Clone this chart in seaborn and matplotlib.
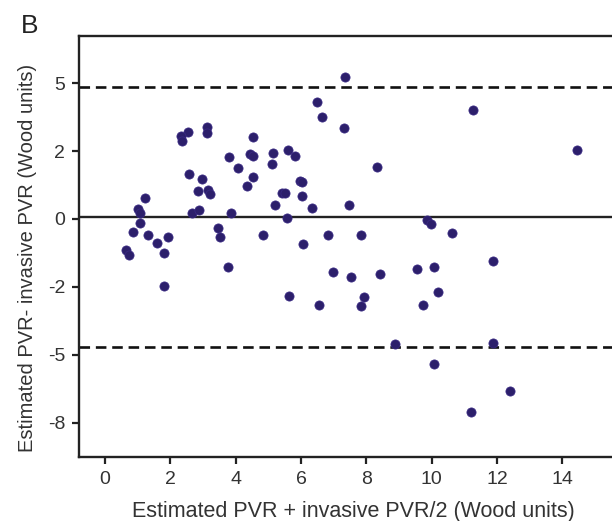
import pandas as pd
import seaborn as sns
import matplotlib.pyplot as plt

# Bland-Altman data
# x: mean of estimated and invasive PVR, y: difference (in axis position units)
mean_pvr = [7.36, 6.49, 6.64, 7.33, 2.54, 2.34, 2.37, 3.11, 3.13, 4.54,
            3.79, 4.08, 4.44, 4.54, 5.15, 5.11, 5.59, 5.82, 2.56, 2.98,
            2.85, 3.16, 3.21, 4.53, 4.35, 5.97, 6.02, 5.42, 5.52, 6.02,
            6.33, 7.46, 5.21, 5.56, 1.21, 1.02, 1.06, 1.08, 0.87, 2.67,
            2.89, 3.85, 1.33, 1.59, 1.92, 1.79, 0.64, 0.74, 3.47, 3.51,
            4.84, 6.07, 6.84, 1.82, 3.75, 5.63, 6.56, 6.98, 7.52, 9.85,
            9.97, 10.61, 7.85, 8.41, 9.56, 10.07, 11.89, 10.21, 7.92, 7.85,
            9.74, 8.87, 11.87, 10.08, 12.39, 11.21, 11.28, 14.44, 8.33]
diff_pvr = [4.18, 3.44, 3.00, 2.68, 2.57, 2.45, 2.30, 2.72, 2.54, 2.42,
            1.83, 1.51, 1.92, 1.86, 1.94, 1.62, 2.03, 1.85, 1.33, 1.18,
            0.83, 0.85, 0.73, 1.25, 0.97, 1.13, 1.08, 0.77, 0.77, 0.69,
            0.32, 0.42, 0.41, 0.03, 0.61, 0.30, 0.19, -0.13, -0.37, 0.17,
            0.27, 0.19, -0.47, -0.70, -0.54, -0.99, -0.91, -1.05, -0.26, -0.52,
            -0.47, -0.73, -0.47, -1.97, -1.41, -2.27, -2.53, -1.55, -1.72, -0.03,
            -0.15, -0.41, -0.46, -1.62, -1.48, -1.41, -1.23, -2.16, -2.31, -2.56,
            -2.53, -3.68, -3.64, -4.27, -5.08, -5.68, 3.21, 2.02, 1.54]

bias = 0.05
upper_loa = 3.90
lower_loa = -3.78

x_ticks = [0, 2, 4, 6, 8, 10, 12, 14]
y_ticks = [4, 2, 0, -2, -4, -6]
y_tick_labels = ["5", "2", "0", "-2", "-5", "-8"]

df = pd.DataFrame({"mean": mean_pvr, "diff": diff_pvr})

sns.set_style("ticks")
plt.rcParams['font.family'] = ['Liberation Sans', 'DejaVu Sans']

fig = plt.figure(figsize=(6.12, 5.21), dpi=100)
ax = fig.add_axes([0.129, 0.1234, 0.875, 0.8077])

sns.scatterplot(data=df, x="mean", y="diff", color="#2c1f6b",
                s=44, edgecolor="#3a2a85", linewidth=0.5, ax=ax, zorder=3)

# bias and limits of agreement
ax.axhline(bias, color="#222222", lw=1.7, zorder=2)
ax.axhline(upper_loa, color="#111111", lw=1.9, ls=(0, (4, 2.2)), zorder=2)
ax.axhline(lower_loa, color="#111111", lw=1.9, ls=(0, (4, 2.2)), zorder=2)

ax.set_xlim(-0.8, 15.6)
ax.set_ylim(-7.0, 5.39)
ax.set_xticks(x_ticks)
ax.set_yticks(y_ticks)
ax.set_yticklabels(y_tick_labels)

for side in ["left", "bottom", "top"]:
    ax.spines[side].set_linewidth(1.7)
    ax.spines[side].set_color("#222222")
ax.spines["right"].set_visible(False)

ax.tick_params(axis="both", direction="out", length=5, width=1.6,
               color="#222222", labelsize=14, labelcolor="#333333", pad=5)

ax.set_xlabel("Estimated PVR + invasive PVR/2 (Wood units)",
              fontsize=15.5, color="#333333", va="center")
ax.set_ylabel("Estimated PVR- invasive PVR (Wood units)",
              fontsize=14.5, color="#333333", va="center")
ax.xaxis.set_label_coords(0.512, -0.131)
ax.yaxis.set_label_coords(-0.097, 0.473)

fig.text(0.034, 0.936, "B", fontsize=19, color="#222222")

fig.savefig("out.png", dpi=100)
